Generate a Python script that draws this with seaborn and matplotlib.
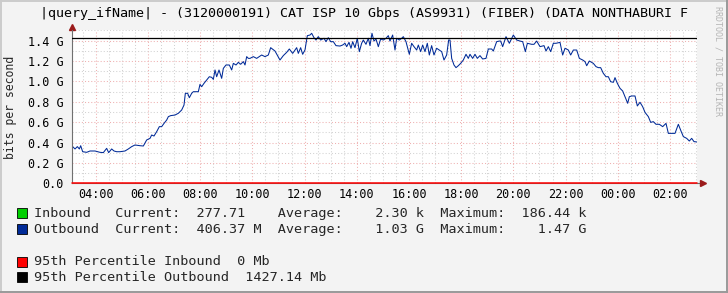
import matplotlib
matplotlib.use("Agg")
import matplotlib.pyplot as plt
import numpy as np
import pandas as pd
import seaborn as sns
from matplotlib.patches import Rectangle
from matplotlib.lines import Line2D

# hours since midnight of day one (past 24 = next day)
out_hours = [
    3.114, 3.204, 3.293, 3.370, 3.421, 3.497, 3.651, 3.778, 3.970, 4.161,
    4.289, 4.417, 4.493, 4.608, 4.698, 4.800, 4.928, 5.119, 5.247, 5.375,
    5.502, 5.694, 5.822, 5.949, 6.077, 6.141, 6.230, 6.333, 6.435, 6.524,
    6.614, 6.716, 6.780, 6.869, 7.035, 7.163, 7.290, 7.380, 7.431, 7.520,
    7.584, 7.674, 7.737, 7.929, 7.993, 8.057, 8.146, 8.248, 8.350, 8.440,
    8.504, 8.568, 8.631, 8.721, 8.823, 8.887, 8.989, 9.117, 9.206, 9.270,
    9.372, 9.462, 9.551, 9.653, 9.717, 9.781, 9.845,
    9.908, 10.036, 10.163, 10.355, 10.483, 10.610, 10.700, 10.866, 11.057, 11.185,
    11.313, 11.415, 11.543, 11.632, 11.696, 11.760, 11.849, 11.926, 12.015, 12.105,
    12.207, 12.271, 12.360, 12.437, 12.526, 12.616, 12.743, 12.820, 12.909, 12.999,
    13.101, 13.203, 13.356, 13.458, 13.548, 13.612, 13.701, 13.778, 13.842, 13.931,
    14.020, 14.097, 14.186, 14.250, 14.352, 14.442, 14.506, 14.582, 14.659, 14.736,
    14.825, 14.914, 15.017, 15.119, 15.208, 15.272, 15.374, 15.464, 15.527, 15.630,
    15.719, 15.783, 15.885, 16.013, 16.102, 16.192, 16.294, 16.358, 16.447, 16.524,
    16.613, 16.702, 16.779, 16.868, 16.958, 17.060, 17.162, 17.252, 17.341, 17.443,
    17.520, 17.571, 17.635, 17.724, 17.801, 17.890, 17.980, 18.082, 18.184, 18.273,
    18.337, 18.439, 18.529, 18.618, 18.720, 18.822, 18.950, 19.040, 19.167, 19.231,
    19.359, 19.461,
    19.513, 19.589, 19.717, 19.845, 19.998, 20.126, 20.254, 20.356, 20.458, 20.535,
    20.701, 20.790, 20.892, 21.020, 21.173, 21.250, 21.339, 21.429, 21.531, 21.633,
    21.786, 21.888, 21.978, 22.105, 22.195, 22.297, 22.425, 22.527, 22.655, 22.744,
    22.808, 22.910, 23.063, 23.165, 23.255, 23.344, 23.446, 23.549, 23.638, 23.727,
    23.830, 23.893, 23.983, 24.085, 24.187, 24.277, 24.379, 24.443, 24.532, 24.660,
    24.749, 24.851, 24.953, 25.043, 25.171, 25.260, 25.362, 25.464, 25.592, 25.720,
    25.847, 25.937, 26.065, 26.192, 26.320, 26.422, 26.512, 26.639, 26.741, 26.831,
    26.920, 27.022,
]
out_gbps = [
    0.360, 0.337, 0.360, 0.337, 0.369, 0.310, 0.304, 0.317, 0.317, 0.304,
    0.301, 0.343, 0.301, 0.337, 0.317, 0.310, 0.310, 0.317, 0.337, 0.360,
    0.376, 0.369, 0.366, 0.425, 0.441, 0.474, 0.464, 0.507, 0.556, 0.556,
    0.588, 0.621, 0.654, 0.664, 0.670, 0.687, 0.719, 0.768, 0.883, 0.883,
    0.840, 0.883, 0.899, 0.899, 0.971, 0.948, 0.981, 1.014, 1.046, 1.040,
    1.020, 1.112, 1.046, 1.112, 1.030, 1.128, 1.161, 1.161, 1.112, 1.177,
    1.161, 1.187, 1.168, 1.194, 1.161, 1.243, 1.226,
    1.226, 1.243, 1.226, 1.259, 1.243, 1.259, 1.331, 1.298, 1.210, 1.253,
    1.285, 1.318, 1.275, 1.308, 1.331, 1.275, 1.331, 1.266, 1.308, 1.449,
    1.455, 1.472, 1.429, 1.406, 1.439, 1.406, 1.423, 1.390, 1.429, 1.390,
    1.390, 1.351, 1.347, 1.357, 1.374, 1.341, 1.383, 1.325, 1.390, 1.331,
    1.423, 1.292, 1.374, 1.406, 1.364, 1.423, 1.351, 1.472, 1.396, 1.416,
    1.341, 1.416, 1.406, 1.423, 1.449, 1.396, 1.455, 1.308, 1.423, 1.406,
    1.423, 1.439, 1.390, 1.266, 1.374, 1.341, 1.308, 1.357, 1.292, 1.357,
    1.292, 1.374, 1.259, 1.351, 1.259, 1.325, 1.308, 1.292, 1.210, 1.259,
    1.406, 1.406, 1.226, 1.161, 1.135, 1.154, 1.177, 1.210, 1.266, 1.226,
    1.266, 1.226, 1.266, 1.226, 1.253, 1.220, 1.226, 1.318, 1.318, 1.298,
    1.390, 1.396,
    1.396, 1.341, 1.439, 1.374, 1.455, 1.406, 1.396, 1.390, 1.292, 1.374,
    1.364, 1.364, 1.396, 1.341, 1.351, 1.298, 1.341, 1.292, 1.374, 1.374,
    1.383, 1.259, 1.325, 1.308, 1.259, 1.308, 1.308, 1.226, 1.210, 1.194,
    1.154, 1.200, 1.177, 1.145, 1.135, 1.135, 1.079, 1.046, 1.046, 0.997,
    0.991, 1.037, 0.981, 0.932, 0.906, 0.850, 0.785, 0.850, 0.857, 0.857,
    0.759, 0.795, 0.752, 0.696, 0.654, 0.598, 0.605, 0.579, 0.579, 0.556,
    0.588, 0.490, 0.490, 0.490, 0.579, 0.513, 0.458, 0.441, 0.415, 0.441,
    0.409, 0.406,
]

# inbound is only a few kbps, it never leaves the zero line
in_hours = [3.114, 9.0, 15.0, 21.0, 27.022]
in_gbps = [0.0000003, 0.000002, 0.000186, 0.000003, 0.0000003]

pct95_in = 0.0
pct95_out = 1.42714

tick_hours = [4, 6, 8, 10, 12, 14, 16, 18, 20, 22, 24, 26]
ytick_vals = [0.0, 0.2, 0.4, 0.6, 0.8, 1.0, 1.2, 1.4]
ytick_labels = ["0.0", "0.2 G", "0.4 G", "0.6 G", "0.8 G", "1.0 G", "1.2 G", "1.4 G"]

title = "|query_ifName| - (3120000191) CAT ISP 10 Gbps (AS9931) (FIBER) (DATA NONTHABURI F"
in_stats = ["277.71", "2.30 k", "186.44 k"]
out_stats = ["406.37 M", "1.03 G", "1.47 G"]
pct_stats = ["0 Mb", "1427.14 Mb"]

C_IN = "#00CF00"
C_OUT = "#002A97"
C_P_IN = "#FF0000"
C_P_OUT = "#000000"

W, H = 728, 293
MONO = "DejaVu Sans Mono"


def fx(x):
    return x / W


def fy(y):
    return 1 - y / H


sns.set_style("white")
plt.rcParams["font.family"] = [MONO]

fig = plt.figure(figsize=(W / 100, H / 100), dpi=100, facecolor="#F3F3F3")

# plot canvas in pixel coordinates of the reference
left, right, top, bottom = 72.3, 697.0, 30.45, 183.3
ax = fig.add_axes([fx(left), fy(bottom), (right - left) / W, (bottom - top) / H])
ax.set_facecolor("white")

xmin = 3.1
xmax = 3.1 + (right - left) / 26.1
ax.set_xlim(xmin, xmax)
ax.set_ylim(0, 1.5)

# grid: grey dotted every 30 min / 0.1 G, red dotted every 2 h / 0.2 G
ax.set_xticks(tick_hours)
ax.set_xticks(np.arange(3.5, 27.01, 0.5), minor=True)
ax.set_yticks(ytick_vals)
ax.set_yticks(np.arange(0.1, 1.51, 0.1), minor=True)
ax.grid(which="minor", color="#D2D2D2", linestyle=(0, (1, 2)), linewidth=0.75)
ax.grid(which="major", color="#EFB0B0", linestyle=(0, (1, 2)), linewidth=0.75)
ax.set_axisbelow(True)

ax.set_xticklabels([f"{h % 24:02d}:00" for h in tick_hours], fontsize=8.5)
ax.set_yticklabels(ytick_labels, fontsize=8.5)
ax.tick_params(axis="both", which="major", length=3, width=0.7, direction="inout",
               color="#D07070", labelcolor="#000000")
ax.tick_params(axis="both", which="minor", length=2, width=0.7, direction="inout",
               color="#B0B0B0")
ax.tick_params(axis="x", which="major", pad=2)
ax.tick_params(axis="y", which="major", pad=5)

for side in ["top", "right"]:
    ax.spines[side].set_visible(False)
ax.spines["left"].set_color("#707070")
ax.spines["left"].set_linewidth(0.8)
ax.spines["bottom"].set_color("#707070")
ax.spines["bottom"].set_linewidth(0.8)

df_out = pd.DataFrame({"hour": out_hours, "gbps": out_gbps})
df_in = pd.DataFrame({"hour": in_hours, "gbps": in_gbps})

ax.fill_between(df_in["hour"], 0, df_in["gbps"], color=C_IN, linewidth=0)
sns.lineplot(data=df_out, x="hour", y="gbps", color=C_OUT, linewidth=0.75,
             ax=ax, legend=False)

ax.axhline(pct95_out, color=C_P_OUT, linewidth=0.9, zorder=5)
ax.axhline(pct95_in, color=C_P_IN, linewidth=1.1, zorder=5, clip_on=False)
ax.set_xlabel("")
ax.set_ylabel("")

# axis arrows
arrow_col = "#9B1B1B"
ax.add_line(Line2D([1.0, 1.01], [0, 0], transform=ax.transAxes, color="#707070",
                   linewidth=0.8, clip_on=False))
ax.plot([1.009], [0], marker=">", markersize=4.5, color=arrow_col,
        transform=ax.transAxes, clip_on=False)
ax.plot([0], [1.02], marker="^", markersize=4.5, color=arrow_col,
        transform=ax.transAxes, clip_on=False)

# titles and side texts
fig.text(fx(364), fy(13), title, ha="center", va="center", fontsize=9.6,
         family=MONO, color="#000000")
fig.text(fx(10.5), fy(107), "bits per second", rotation=90, ha="center",
         va="center", fontsize=8.3, family=MONO)
fig.text(fx(718), fy(6), "RRDTOOL / TOBI OETIKER", rotation=270, ha="center",
         va="top", fontsize=6, family=MONO, color="#B5B5B5")

# legend rows
rows = [
    (C_IN, 213.3, "Inbound   " + "Current:  " + in_stats[0].ljust(10) + "Average:  "
     + in_stats[1].rjust(8) + "  Maximum:  " + in_stats[2].rjust(8)),
    (C_OUT, 229.3, "Outbound  " + "Current:  " + out_stats[0].ljust(10) + "Average:  "
     + out_stats[1].rjust(8) + "  Maximum:  " + out_stats[2].rjust(8)),
    (C_P_IN, 261.7, "95th Percentile Inbound  " + pct_stats[0]),
    (C_P_OUT, 277.3, "95th Percentile Outbound  " + pct_stats[1]),
]
for col, y, txt in rows:
    fig.patches.append(Rectangle((fx(17), fy(y + 5)), 10 / W, 10 / H,
                                 transform=fig.transFigure, facecolor=col,
                                 edgecolor="#000000", linewidth=0.6))
    fig.text(fx(34), fy(y), txt, ha="left", va="center", fontsize=9.7, family=MONO)

# 3D frame of the image
fig.add_artist(Line2D([0, 1], [fy(1), fy(1)], color="#CBCBCB", linewidth=1.4))
fig.add_artist(Line2D([fx(1), fx(1)], [0, 1], color="#CBCBCB", linewidth=1.4))
fig.add_artist(Line2D([0, 1], [fy(292), fy(292)], color="#999999", linewidth=1.4))
fig.add_artist(Line2D([fx(727), fx(727)], [0, 1], color="#999999", linewidth=1.4))

fig.savefig("out.png", dpi=100, facecolor=fig.get_facecolor())
